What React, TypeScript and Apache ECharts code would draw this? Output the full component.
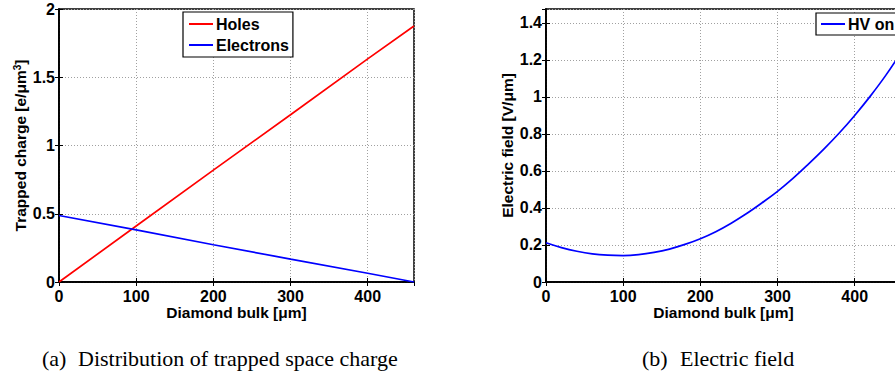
import React, { useEffect, useRef } from "react";
import * as echarts from "echarts";

// Panel (a): trapped space charge
const chargeX = [0, 100, 200, 300, 400, 460];
const holes = [0, 0.41, 0.82, 1.225, 1.635, 1.875];
const electrons = [0.487, 0.382, 0.273, 0.168, 0.064, 0.0];

// Panel (b): electric field
const fieldX = [0, 20, 40, 60, 80, 100, 120, 140, 160, 180, 200, 220, 240, 260, 280, 300, 320, 340, 360, 380, 400, 420, 440, 460];
const fieldY = [0.212, 0.186, 0.166, 0.152, 0.145, 0.143, 0.148, 0.16, 0.178, 0.203, 0.234, 0.272, 0.318, 0.37, 0.428, 0.49, 0.56, 0.637, 0.718, 0.805, 0.9, 1.003, 1.115, 1.24];

const captionA = ["(a)", "Distribution of trapped space charge"];
const captionB = ["(b)", "Electric field"];

const FONT = "'Liberation Sans', Arial, Helvetica, sans-serif";
const SERIF = "'Liberation Serif', 'Times New Roman', serif";

const zip = (xs: number[], ys: number[]) => xs.map((x, i) => [x, ys[i]]);

const labelStyle = { fontFamily: FONT, fontWeight: "bold" as const, fontSize: 16, color: "#000" };
const gridLine = { show: true, lineStyle: { color: "#a0a0a0", width: 1, type: [1, 2] as any } };

function mainX(gridIndex: number) {
  return {
    type: "value",
    gridIndex,
    min: 0,
    max: 460,
    interval: 100,
    name: "Diamond bulk [μm]",
    nameLocation: "middle",
    nameGap: 22,
    nameMoveOverlap: false,
    nameTextStyle: { ...labelStyle, fontSize: 15.5 },
    axisLine: { show: true, lineStyle: { color: "#000", width: 1.5 } },
    axisTick: { show: true, inside: true, length: 4, lineStyle: { color: "#000" } },
    axisLabel: { ...labelStyle, margin: 6, showMaxLabel: false },
    splitLine: gridLine,
  };
}
function topX(gridIndex: number) {
  return {
    type: "value",
    gridIndex,
    position: "top",
    min: 0,
    max: 460,
    interval: 100,
    axisLine: { show: true, lineStyle: { color: "#000", width: 1.5 } },
    axisTick: { show: true, inside: true, length: 4, lineStyle: { color: "#000" } },
    axisLabel: { show: false },
    splitLine: { show: false },
  };
}

export default function App() {
  const ref = useRef<HTMLDivElement>(null);
  useEffect(() => {
    if (!ref.current) return;
    const chart = echarts.init(ref.current, undefined, { renderer: "svg" });
    chart.setOption({
      animation: false,
      backgroundColor: "#fff",
      grid: [
        { left: 59, top: 9, width: 355, height: 273, show: true, borderColor: "#000", borderWidth: 1.5, backgroundColor: "transparent" },
        { left: 546, top: 9, width: 355, height: 273, show: true, borderColor: "#000", borderWidth: 1.5, backgroundColor: "transparent" },
      ],
      xAxis: [mainX(0), mainX(1), topX(0), topX(1)],
      yAxis: [
        {
          type: "value",
          gridIndex: 0,
          min: 0,
          max: 2,
          interval: 0.5,
          name: "Trapped charge [e/μm{sup|3}]",
          nameLocation: "middle",
          nameGap: 31,
          nameMoveOverlap: false,
          nameTextStyle: {
            ...labelStyle,
            fontSize: 15.5,
            rich: { sup: { fontFamily: FONT, fontWeight: "bold", fontSize: 10, verticalAlign: "top", color: "#000" } },
          },
          axisLine: { show: true, lineStyle: { color: "#000", width: 1.5 } },
          axisTick: { show: true, inside: true, length: 4, lineStyle: { color: "#000" } },
          axisLabel: { ...labelStyle, margin: 4 },
          splitLine: gridLine,
        },
        {
          type: "value",
          gridIndex: 1,
          min: 0,
          max: 1.475,
          interval: 0.2,
          name: "Electric field [V/μm]",
          nameLocation: "middle",
          nameGap: 31,
          nameMoveOverlap: false,
          nameTextStyle: { ...labelStyle, fontSize: 15.5 },
          axisLine: { show: true, lineStyle: { color: "#000", width: 1.5 } },
          axisTick: { show: true, inside: true, length: 4, lineStyle: { color: "#000" } },
          axisLabel: { ...labelStyle, margin: 4, showMaxLabel: false },
          splitLine: gridLine,
        },
        {
          type: "value", gridIndex: 0, position: "right", min: 0, max: 2, interval: 0.5,
          axisLine: { show: true, lineStyle: { color: "#000", width: 1.5 } },
          axisTick: { show: true, inside: true, length: 4, lineStyle: { color: "#000" } },
          axisLabel: { show: false }, splitLine: { show: false },
        },
        {
          type: "value", gridIndex: 1, position: "right", min: 0, max: 1.475, interval: 0.2,
          axisLine: { show: true, lineStyle: { color: "#000", width: 1.5 } },
          axisTick: { show: true, inside: true, length: 4, lineStyle: { color: "#000" } },
          axisLabel: { show: false }, splitLine: { show: false },
        },
      ],
      legend: [
        {
          data: ["Holes", "Electrons"],
          orient: "vertical",
          left: 183,
          top: 12,
          padding: [4, 4, 4, 5],
          itemWidth: 24,
          itemHeight: 16,
          itemGap: 5,
          itemStyle: { opacity: 0 },
          backgroundColor: "#fff",
          borderColor: "#000",
          borderWidth: 1.2,
          textStyle: { ...labelStyle, fontSize: 16, padding: [0, 0, 0, -2] },
        },
        {
          data: ["HV on"],
          orient: "vertical",
          left: 816,
          top: 13,
          padding: [3, 8, 3, 4],
          itemWidth: 24,
          itemHeight: 16,
          itemStyle: { opacity: 0 },
          backgroundColor: "#fff",
          borderColor: "#000",
          borderWidth: 1.2,
          textStyle: { ...labelStyle, fontSize: 16, padding: [0, 0, 0, -2] },
        },
      ],
      series: [
        {
          name: "Holes", type: "line", xAxisIndex: 0, yAxisIndex: 0, symbol: "none",
          data: zip(chargeX, holes), lineStyle: { color: "#ff0000", width: 1.7 }, itemStyle: { color: "#ff0000" },
        },
        {
          name: "Electrons", type: "line", xAxisIndex: 0, yAxisIndex: 0, symbol: "none",
          data: zip(chargeX, electrons), lineStyle: { color: "#0000ff", width: 1.7 }, itemStyle: { color: "#0000ff" },
        },
        {
          name: "HV on", type: "line", xAxisIndex: 1, yAxisIndex: 1, symbol: "none", smooth: 0.4,
          data: zip(fieldX, fieldY), lineStyle: { color: "#0000ff", width: 1.7 }, itemStyle: { color: "#0000ff" },
        },
      ],
      graphic: [
        { type: "text", left: 42, top: 347, style: { text: captionA[0], font: `22px ${SERIF}`, fill: "#000" } },
        { type: "text", left: 78, top: 347, style: { text: captionA[1], font: `22px ${SERIF}`, fill: "#000" } },
        { type: "text", left: 642, top: 347, style: { text: captionB[0], font: `22px ${SERIF}`, fill: "#000" } },
        { type: "text", left: 680, top: 347, style: { text: captionB[1], font: `22px ${SERIF}`, fill: "#000" } },
      ],
    });
    return () => chart.dispose();
  }, []);
  return (
    <div style={{ position: "fixed", left: 0, top: 0, width: 895, height: 376, overflow: "hidden", background: "#fff" }}>
      <div ref={ref} style={{ width: 960, height: 376 }} />
    </div>
  );
}
